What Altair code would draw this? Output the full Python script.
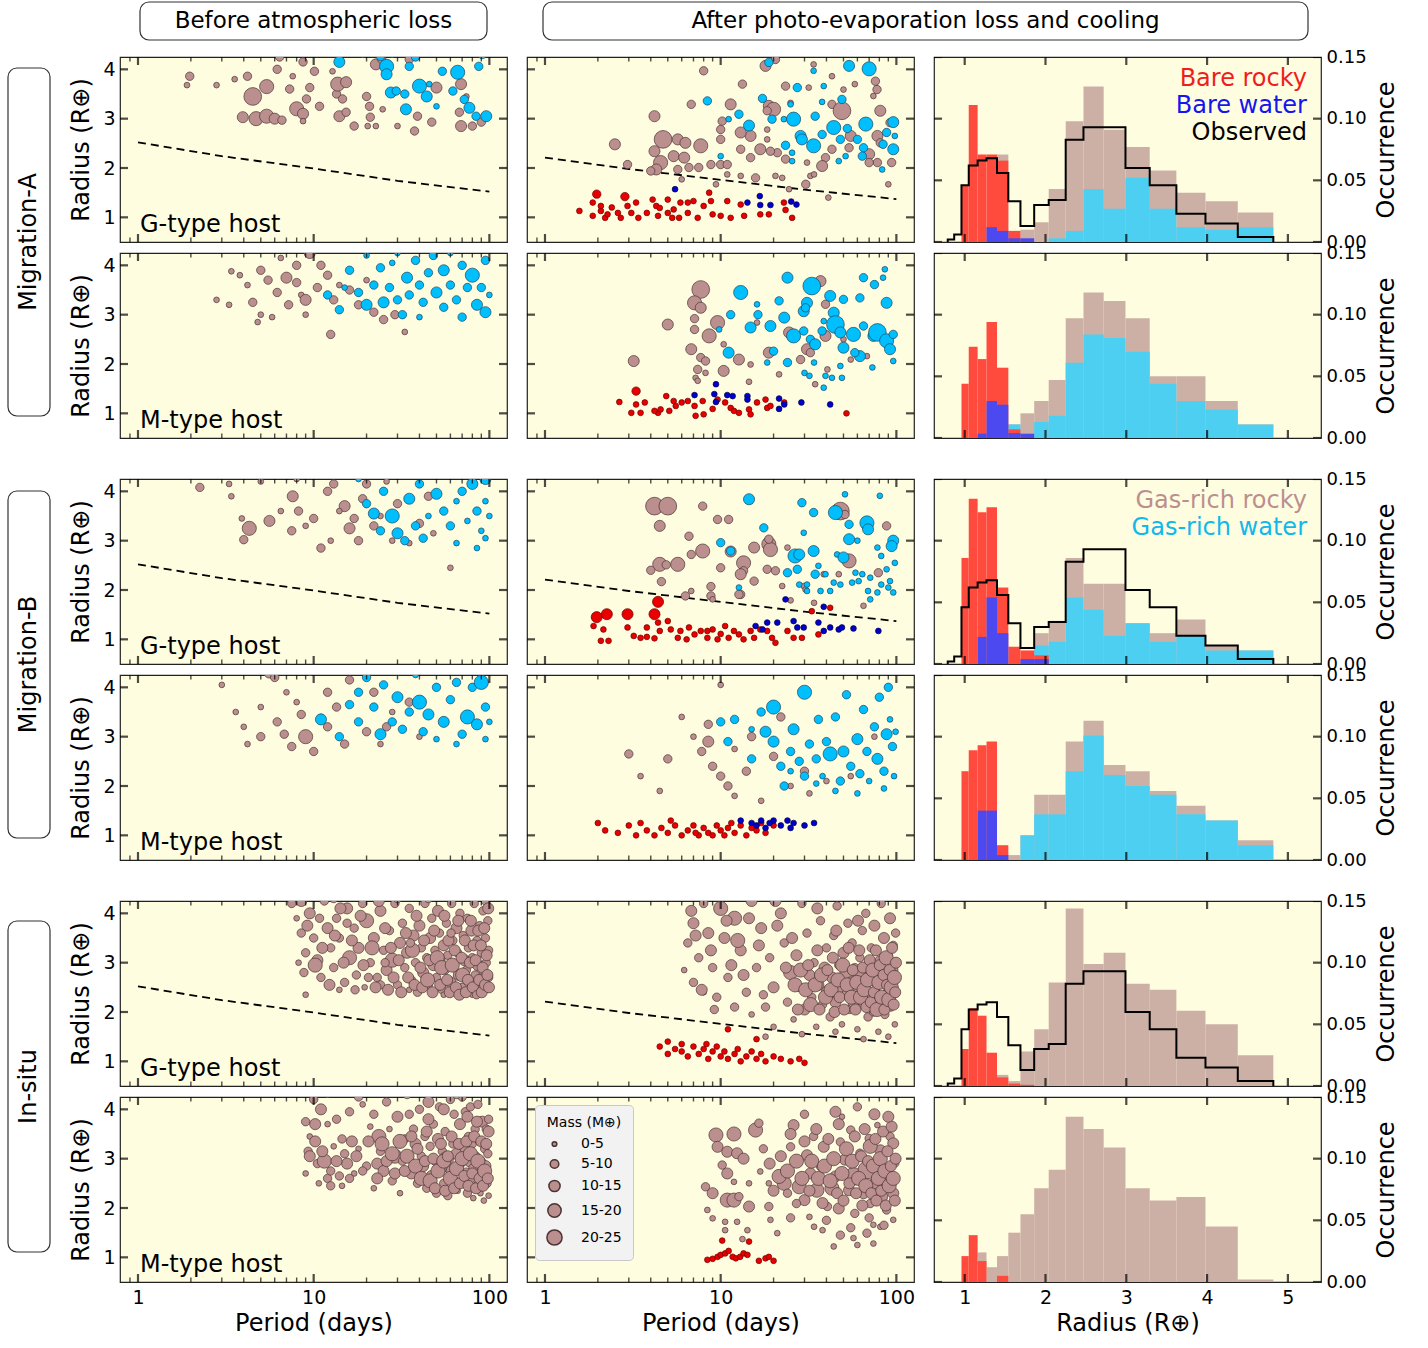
import altair as alt
import pandas as pd

# ---------------------------------------------------------------- data
# scatter points: (orbital period [days], radius [R_earth], mass class 1..5)
A_G_BEFORE_ROCKY = [(1.97,3.86,2),(1.9,3.68,1),(2.8,3.68,1),(3.55,3.8,1),(4.2,3.86,2),(4.5,3.45,5),(5.4,3.65,4),(4.7,3.0,4),(3.95,3.03,3),(5.4,3.05,4),(6.0,3.0,3),(6.6,2.97,2),(6.2,4.0,2),(6.4,4.25,2),(7.3,3.6,2),(7.6,3.86,1),(8.0,3.2,4),(8.7,3.1,3),(9.1,3.4,2),(9.5,3.63,2),(10.1,3.96,2),(10.8,3.25,2),(8.7,2.95,1),(8.7,4.15,2),(13.5,3.5,2),(13.7,3.7,4),(14.6,3.4,2),(15.3,3.74,3),(14.0,3.05,3),(15.3,3.13,2),(17,2.85,2),(12.8,3.96,1),(20,3.45,2),(20.8,3.25,2),(21,3.03,2),(20.3,2.85,1),(22.6,2.85,1),(24.7,3.19,1),(22.6,4.1,3),(24.4,4.2,2),(30,2.85,1),(37.5,2.75,2),(39,3.05,2),(47,2.93,2),(50,3.63,3),(35,4.2,2),(69,3.7,3),(67.5,3.13,2),(69,2.85,3),(80,2.85,2),(90,2.93,2),(74,3.45,1)]
A_G_BEFORE_WATER = [(14,4.15,3),(26,4.06,4),(26,3.9,3),(27.5,3.53,3),(29.5,3.56,2),(33,3.5,2),(33.5,3.19,3),(35,4.06,2),(40,3.66,4),(44,3.45,3),(45.5,3.7,1),(50,3.25,1),(54,3.96,2),(66,3.94,4),(62,3.56,2),(72,3.39,2),(77,3.22,3),(84,3.05,2),(96,3.05,3),(87,4.06,2),(91,4.3,2),(38,4.25,2),(24,4.26,2),(19,4.3,1),(28,4.3,1)]

A_G_AFTER_GAS_ROCKY = [(8.0,3.97,2),(13.3,3.70,2),(6.8,3.29,2),(11.4,3.29,3),(4.2,3.05,3),(2.5,2.48,3),(4.7,2.58,5),(4.2,2.34,3),(5.7,2.58,3),(6.3,2.51,3),(7.7,2.45,4),(4.55,2.11,4),(5.4,2.24,3),(6.2,2.21,3),(4.3,1.97,3),(2.95,2.07,2),(4.0,1.94,2),(5.7,1.97,2),(6.6,2.01,2),(7.5,2.01,2),(8.8,2.07,2),(10,2.07,2),(10,2.58,2),(10.2,2.95,2),(10,2.78,2),(13,2.38,2),(14.8,2.21,2),(14.8,2.65,3),(13,2.72,3),(10.9,2.07,2),(10.9,1.87,1),(13,1.84,1),(15.8,1.80,2),(9.4,1.67,1),(6.0,1.77,1),(16.8,2.38,3),(18.8,3.26,3),(20,3.19,4),(18.4,3.16,2),(18,4.07,3),(20.5,4.2,2),(23.4,3.66,2),(23.4,2.18,2),(21,2.31,2),(19.2,2.34,2),(18.4,2.78,1),(18.4,2.58,1),(20.5,1.84,1),(22.4,1.80,1),(24.5,1.57,1),(25,3.32,1),(31,2.11,1),(30.5,1.67,2),(31.7,3.63,1),(32.4,1.84,1),(33.8,4.1,1),(43,3.86,1),(43,3.29,2),(49,3.16,5),(50,3.59,1),(39.5,2.21,2),(43,2.38,2),(37.8,2.04,3),(55,2.65,3),(53.8,2.41,2),(41,1.40,1),(58,3.70,1),(76,3.76,2),(77.6,3.59,2),(74,3.46,1),(81,3.16,3),(92,2.92,2),(78,2.65,3),(81,2.51,2),(70,2.28,3),(78,2.11,2),(90,1.67,1),(94,2.11,2),(70,2.11,2),(34,1.87,1)]
A_G_AFTER_GAS_WATER = [(18.8,4.14,2),(8.4,3.36,2),(12.7,3.09,2),(11.1,2.99,1),(14.5,2.86,3),(17.3,3.41,2),(19.6,2.99,2),(22.9,2.99,1),(26,2.99,4),(27.3,3.63,2),(25,3.29,1),(28.5,2.65,3),(29,2.58,3),(23.4,2.46,2),(25.5,2.31,1),(25.5,2.14,1),(33.8,2.45,4),(34.5,3.05,2),(37.8,2.68,2),(38.6,3.66,1),(33.8,3.97,1),(37.8,3.34,1),(44,2.82,4),(49,3.39,2),(53.8,4.07,3),(52.6,2.8,2),(48,2.58,2),(51.4,2.24,1),(47,2.14,1),(70,4.01,4),(67,2.89,4),(65,2.41,2),(64,2.24,2),(96,2.93,3),(96,2.38,3),(88,2.72,2),(84,2.48,2),(83,1.97,1),(60,2.58,2),(98,2.65,1),(10,2.24,1)]
A_G_AFTER_BARE_ROCKY = [(1.97,1.47,2),(2.85,1.42,2),(1.57,1.13,1),(1.87,1.30,1),(1.87,1.03,1),(2.08,1.13,1),(2.2,0.99,1),(2.08,1.23,1),(2.6,1.09,1),(2.7,0.99,1),(2.95,1.23,1),(3.1,1.09,1),(3.3,1.30,1),(3.4,0.99,1),(3.8,1.09,1),(4.1,1.36,1),(4.3,1.23,1),(4.4,1.03,1),(5.0,1.36,1),(5.0,1.09,1),(5.4,1.16,1),(5.8,0.99,1),(5.9,1.30,1),(6.5,1.09,1),(7.0,1.33,1),(7.4,0.99,1),(8.0,1.23,1),(8.6,1.50,1),(8.8,1.33,1),(9.0,1.06,1),(10,1.03,1),(10.9,1.33,1),(11.4,0.99,1),(13,1.26,1),(13.6,1.03,1),(16.8,1.06,1),(18.8,1.06,1),(22.9,1.30,1),(23.4,1.15,1),(25.5,0.99,1),(2.27,1.06,1),(2.4,1.2,1),(4.5,1.19,1),(5.3,0.99,1),(6.5,1.30,1)]
A_G_AFTER_BARE_WATER = [(5.5,1.57,1),(14.2,1.30,1),(16.7,1.43,1),(16.8,1.25,1),(19.2,1.25,1),(25.2,1.32,1),(27,1.26,1)]

A_M_BEFORE_ROCKY = [(3.4,3.88,1),(3.8,3.8,1),(2.8,3.3,1),(3.3,3.2,1),(4.2,3.6,1),(4.5,3.25,2),(5.0,3.9,2),(5.5,3.7,2),(5.0,3.0,1),(5.8,2.95,1),(6.2,3.45,2),(7.0,3.75,3),(7.2,3.2,2),(8.0,3.65,2),(8.5,3.4,1),(9.0,3.3,3),(9.5,4.25,3),(10.5,3.55,2),(11,4.0,2),(12,3.8,2),(12.5,2.6,2),(13,3.3,2),(14,3.6,1),(6.5,4.15,1),(8,4.0,2),(4.8,2.85,1),(16,3.5,2),(18,3.2,2),(22,3.05,2),(25,2.9,2),(29,3.0,2),(33,2.65,1),(20,3.7,1),(9,3.0,1)]
A_M_BEFORE_WATER = [(12,3.4,2),(14,3.1,2),(15,3.55,1),(16,3.9,2),(18,3.45,2),(20,3.2,3),(20,4.2,1),(22,3.6,2),(24,3.95,2),(25,3.25,3),(27,3.55,2),(28,4.05,1),(30,3.3,2),(32,3.0,2),(34,3.75,3),(35,3.4,2),(38,4.1,2),(40,3.6,2),(42,3.25,2),(45,3.85,2),(48,4.2,2),(50,3.45,3),(55,3.15,2),(55,3.9,3),(60,3.6,2),(65,3.3,2),(70,4.0,2),(75,3.55,2),(80,3.8,4),(85,3.2,3),(90,3.55,2),(95,3.05,3),(95,4.1,2),(60,4.25,1),(30,4.25,1),(40,2.95,1),(70,2.95,2),(100,3.4,1)]

A_M_AFTER_GAS_ROCKY = [(7.7,3.51,5),(7.1,3.24,4),(7.7,3.14,3),(7.1,2.92,2),(7.1,2.70,2),(5.0,2.80,3),(9.6,2.84,4),(8.6,2.57,4),(6.8,2.30,3),(7.7,2.13,2),(8.2,2.06,2),(10.4,2.40,1),(10.4,1.86,3),(8.2,1.82,1),(7.4,1.89,2),(7.2,1.72,1),(7.4,1.66,1),(3.2,2.06,3),(12.7,2.09,3),(14.8,1.99,1),(14.5,1.64,1),(16.1,2.84,1),(18.8,2.23,3),(21.5,1.79,1),(24.5,2.64,3),(31,2.30,3),(32.4,2.23,2),(28.5,2.09,2),(34.5,1.59,1),(37,3.68,3),(39.5,3.21,2),(39.5,2.57,3),(40.5,1.89,1),(50,2.50,1),(55,2.09,1),(68,2.16,1)]
A_M_AFTER_GAS_WATER = [(13,3.45,4),(24,3.75,3),(33,3.58,5),(31,3.24,3),(11.4,3.0,2),(16.3,3.0,2),(14.8,2.74,3),(19.2,2.77,3),(23,2.94,3),(21.5,3.28,2),(16.1,3.21,1),(26,2.57,4),(29.7,2.67,2),(32.4,2.50,2),(34.5,2.40,3),(29.7,3.07,3),(30.4,3.14,2),(42,3.38,3),(50,3.31,2),(44,3.04,3),(45,2.80,5),(37.8,2.67,2),(38.6,2.87,1),(48,2.64,3),(50,2.33,3),(57,2.60,4),(62,3.34,2),(65,2.77,2),(74,2.57,3),(78,2.64,5),(88,2.47,4),(92,2.30,3),(88,3.24,3),(96,2.60,2),(96,2.06,1),(65,3.75,2),(75,3.61,2),(84,3.75,1),(86,3.92,1),(73,1.93,1),(62,2.16,3),(58,2.23,2),(48,1.96,1),(39.5,1.76,1),(43,1.72,1),(49,1.72,1),(30,1.82,1),(32,1.76,1),(20,2.26,2),(24,2.03,2),(18.4,2.03,1),(11.1,2.23,3),(34,2.03,1),(38.6,1.52,1),(9.8,2.70,1)]
A_M_AFTER_BARE_ROCKY = [(3.3,1.45,2),(2.65,1.23,1),(3.1,1.01,1),(3.3,1.18,1),(3.5,1.01,1),(3.7,1.22,1),(4.4,1.01,1),(4.55,1.08,1),(4.9,1.35,1),(5.1,1.05,1),(5.4,1.25,1),(5.55,1.15,1),(6.0,1.22,1),(6.5,1.25,1),(7.1,1.15,1),(7.2,0.95,1),(7.9,1.25,1),(8.0,0.98,1),(9.0,1.09,1),(10.6,1.22,1),(11.4,1.11,1),(11.9,1.05,1),(12.7,1.01,1),(14.5,1.08,1),(14.8,0.98,1),(16.1,1.22,1),(18,1.28,1),(18.4,1.11,1),(19.2,1.15,1),(23,1.22,1),(52,1.0,1),(4.2,1.05,1),(9.6,1.28,1)]
A_M_AFTER_BARE_WATER = [(9.4,1.59,1),(9.2,1.39,1),(9.4,1.23,1),(7.1,1.37,1),(10.9,1.37,1),(11.7,1.35,1),(14.2,1.35,1),(14.2,1.28,1),(21.5,1.30,1),(23,1.18,1),(21.5,1.09,1),(28.8,1.22,1),(42,1.18,1)]

B_G_BEFORE_ROCKY = [(2.25,4.08,2),(3.3,4.15,1),(3.4,3.9,1),(3.9,3.45,1),(4.3,3.25,4),(4.0,3.02,2),(5.6,3.4,3),(6.5,3.6,1),(7.6,3.9,3),(7.5,3.2,2),(8.2,3.6,2),(9.0,3.3,1),(10,3.45,2),(11,2.85,2),(12,4.0,2),(13,4.15,2),(15,3.7,3),(16,3.25,3),(17,3.45,2),(19,3.85,2),(20,4.15,2),(22,3.3,2),(24,3.5,1),(26,4.2,1),(12.5,3.0,1),(18,3.0,2),(28,3.0,1),(35,2.95,1),(40,3.35,2),(45,3.9,2),(48,3.15,1),(60,2.45,1),(8,4.25,1),(5,4.2,1),(14,3.6,1),(30,3.75,2)]
B_G_BEFORE_WATER = [(20,3.75,2),(22,3.55,3),(24,3.2,2),(25,4.0,2),(28,3.5,4),(30,3.15,3),(33,3.0,2),(35,3.85,3),(38,3.3,2),(40,4.15,2),(42,3.05,2),(50,3.95,3),(55,3.6,2),(60,3.3,2),(65,3.8,1),(70,4.0,2),(75,3.4,1),(80,4.15,3),(85,3.6,2),(90,3.2,1),(95,4.25,3),(95,3.8,1),(100,3.5,1),(18,4.25,1),(45,3.5,1),(65,2.95,1),(85,2.85,1),(95,3.05,1)]

B_G_AFTER_GAS_ROCKY = [(4.2,3.70,5),(5.0,3.70,5),(4.5,3.30,3),(7.9,3.70,2),(9.6,3.43,2),(11.1,3.43,2),(6.6,3.09,2),(7.9,2.79,4),(6.8,2.72,2),(5.7,2.52,4),(4.5,2.52,4),(4.9,2.51,2),(4.0,2.40,2),(4.6,2.17,2),(6.3,1.88,2),(6.8,1.98,1),(8.8,2.07,2),(8.8,1.88,2),(9.0,1.81,1),(10,2.45,2),(11.4,2.78,3),(13.5,2.55,4),(13.5,2.39,2),(13,2.32,3),(13,1.91,2),(15.5,2.86,3),(15.5,2.18,2),(18.4,2.42,2),(18.8,2.93,4),(19.2,2.82,4),(18.8,3.03,2),(20.5,2.39,2),(24,2.86,1),(22.4,2.08,1),(25,1.79,1),(29.7,2.08,1),(30.4,2.01,1),(34,1.74,1),(47,2.32,1),(48,3.60,5),(51,3.53,2),(53.8,2.59,4),(65,1.68,1),(79,2.35,2),(88,3.30,2),(38.6,2.32,1),(12.7,1.91,2)]
B_G_AFTER_GAS_WATER = [(14.5,3.84,3),(10,2.96,2),(11.4,2.79,2),(17.6,3.26,2),(29,3.77,2),(33.8,3.57,2),(26.5,2.69,4),(28,2.72,3),(33.8,2.79,3),(27.3,2.42,2),(24,2.35,2),(29.7,3.16,1),(36,2.49,1),(34.5,2.32,2),(39.5,2.32,1),(45,3.57,4),(51,3.94,1),(53.8,3.33,2),(53.8,3.03,3),(60,3.0,1),(46,2.72,1),(50,2.66,3),(68,3.36,4),(69,3.23,3),(80.5,3.91,1),(78,2.86,1),(82,2.69,1),(96,3.0,3),(94,2.89,3),(98,2.55,1),(88,2.42,1),(82,2.11,1),(90,2.05,1),(96,1.95,1),(92,2.18,1),(71,2.25,1),(64,2.32,1),(61,2.18,1),(58.5,2.35,1),(56,2.15,1),(48,2.11,1),(44,2.15,1),(42,1.98,1),(37,1.98,1),(31,2.11,1),(28,2.11,1),(12.7,2.05,1),(69,1.98,1),(78,1.95,1),(71,1.81,1),(31,1.98,1)]
B_G_AFTER_BARE_ROCKY = [(4.4,1.76,3),(1.97,1.45,3),(2.25,1.51,3),(2.95,1.51,3),(4.2,1.51,3),(1.89,1.27,1),(2.15,1.2,1),(2.08,0.97,1),(2.3,0.97,1),(2.95,1.24,1),(3.2,1.07,1),(3.5,1.03,1),(3.8,1.05,1),(4.2,1.02,1),(4.4,1.34,1),(4.5,1.17,1),(5.0,1.37,1),(5.2,1.2,1),(5.7,1.03,1),(5.9,1.17,1),(6.4,1.0,1),(6.6,1.24,1),(7.1,1.1,1),(7.7,1.17,1),(8.4,1.03,1),(9.0,1.2,1),(9.6,1.0,1),(10,1.11,1),(10.6,1.27,1),(11.1,1.03,1),(11.9,1.17,1),(12.7,1.1,1),(13.5,1.0,1),(14.8,1.17,1),(15.5,1.03,1),(16.8,1.2,1),(18.4,1.17,1),(19.6,1.03,1),(20.5,0.93,1),(24,1.17,1),(26,1.03,1),(29,1.03,1),(33,1.57,1),(36,1.1,1),(42,1.64,1),(8.4,1.17,1),(3.8,1.24,1)]
B_G_AFTER_BARE_WATER = [(23.4,1.81,1),(15.8,1.27,1),(18.4,1.34,1),(21,1.34,1),(26,1.37,1),(27.3,1.24,1),(29.7,1.24,1),(38.6,1.66,1),(36,1.34,1),(38.6,1.17,1),(42,1.24,1),(47,1.2,1),(49,1.24,1),(57,1.22,1),(79,1.17,1),(17.3,1.2,1)]

B_M_BEFORE_ROCKY = [(3.0,4.05,1),(3.6,3.5,1),(4.0,3.2,1),(4.2,2.85,1),(5.0,3.0,2),(5.6,4.3,3),(6.0,4.2,2),(6.2,3.3,2),(6.8,3.05,2),(7.5,2.8,2),(8,3.7,1),(8.5,3.45,2),(9.0,3.0,4),(10,2.7,2),(11,3.4,1),(12,3.2,2),(13.5,3.6,2),(15,2.85,2),(16,4.15,2),(18,3.3,1),(20,3.1,2),(22,3.9,2),(24,2.85,1),(28,3.5,1),(5.0,3.6,1),(7,3.9,1),(12,3.9,2),(26,3.2,2),(35,3.7,2),(40,3.0,1),(9.5,4.3,1)]
B_M_BEFORE_WATER = [(11,3.35,3),(14,3.0,2),(16,3.65,2),(18,3.9,2),(18,3.3,2),(20,4.2,2),(22,3.6,2),(24,3.05,3),(25,4.05,2),(28,3.3,2),(30,3.8,3),(32,3.15,2),(35,3.5,2),(38,4.25,1),(40,3.7,4),(42,3.1,2),(45,3.45,3),(50,4.0,2),(55,3.3,3),(60,3.75,2),(65,4.1,2),(70,3.05,2),(75,3.4,4),(80,4.0,2),(85,3.25,3),(90,4.1,4),(95,3.6,2),(95,2.95,1),(100,3.3,1),(50,2.95,1),(30,4.3,1),(65,2.85,1)]

B_M_AFTER_GAS_ROCKY = [(3.0,2.65,2),(3.5,2.2,1),(5.0,2.55,2),(6,3.4,1),(7,3.0,1),(7.8,2.7,2),(8.5,2.9,3),(9,2.4,2),(10,2.2,2),(10,4.05,1),(11,2.0,2),(12,1.8,1),(14,2.3,2),(15,3.0,2),(17,1.7,1),(20,2.6,2),(22,3.4,2),(30,2.3,2),(32,1.85,1),(40,2.1,1),(55,2.2,1),(25,2.0,1),(4.5,1.9,1),(8.5,3.25,2),(12,2.75,1),(75,3.0,1)]
B_M_AFTER_GAS_WATER = [(10,3.3,2),(11,2.9,2),(12,3.35,2),(15,3.15,1),(15,2.55,2),(17,3.5,2),(18,3.1,3),(20,2.9,3),(20,3.6,4),(22,2.4,2),(23,2.0,2),(25,2.7,2),(26,3.15,3),(28,2.5,2),(30,2.2,2),(30,3.9,4),(32,2.85,2),(35,2.55,2),(36,3.35,2),(38,2.2,1),(40,2.9,2),(42,2.65,4),(45,3.4,2),(48,2.1,2),(50,2.7,3),(52,3.85,2),(55,2.4,2),(60,2.95,3),(62,2.25,2),(65,3.55,2),(68,2.7,2),(70,2.1,1),(75,3.2,2),(78,2.55,3),(80,3.8,2),(85,2.3,2),(88,3.05,3),(90,4.0,2),(92,3.35,1),(95,2.8,2),(97,2.2,1),(99,3.1,1),(60,1.85,1),(45,1.9,1),(35,2.05,1),(85,1.95,1),(25,2.3,1)]
B_M_AFTER_BARE_ROCKY = [(2.0,1.25,1),(2.2,1.1,1),(2.6,1.05,1),(3.0,1.2,1),(3.3,1.0,1),(3.8,1.1,1),(4.2,1.0,1),(4.6,1.15,1),(5.0,1.05,1),(5.5,1.2,1),(6.0,1.0,1),(6.5,1.1,1),(7.0,1.2,1),(7.5,1.0,1),(8.0,1.15,1),(8.5,1.05,1),(9.0,1.0,1),(9.5,1.2,1),(10.0,1.1,1),(10.5,1.0,1),(11,1.15,1),(11.5,1.25,1),(12,1.05,1),(13,1.2,1),(14,1.0,1),(15,1.15,1),(16,1.1,1),(17,1.25,1),(18,1.05,1),(20,1.2,1),(5.2,1.3,1),(3.5,1.25,1),(7.2,1.05,1)]
B_M_AFTER_BARE_WATER = [(13,1.3,1),(15,1.25,1),(16,1.2,1),(17,1.3,1),(19,1.25,1),(20,1.3,1),(22,1.2,1),(24,1.3,1),(26,1.25,1),(30,1.2,1),(34,1.25,1),(18,1.15,1),(25,1.15,1)]

I_G_BEFORE_ROCKY = [(7.5,4.2,2),(8,3.9,1),(8.5,3.6,2),(9,3.2,2),(8.2,3.0,1),(8.8,2.8,2),(9.5,4.0,3),(10,3.5,2),(10.5,3.05,3),(11,2.7,2),(11.5,4.25,2),(12,3.7,3),(12.5,3.3,2),(13,2.9,2),(13.5,3.9,2),(14,3.5,2),(15,2.6,2),(15.5,4.1,3),(16,3.1,4),(17,3.7,2),(17.5,2.75,2),(18,3.3,3),(19,4.2,2),(19.5,2.5,1),(20,3.85,4),(21,3.0,2),(22,3.5,3),(23,2.7,2),(24,4.05,3),(25,3.25,2),(26,2.85,3),(27,3.65,2),(28,3.05,4),(29,4.2,2),(30,2.55,2),(31,3.4,3),(32,3.8,2),(33,2.9,2),(34,3.2,3),(35,4.1,2),(36,2.65,2),(37,3.55,3),(38,3.0,2),(39,2.4,2),(40,3.75,3),(41,3.3,2),(42,2.8,3),(43,4.2,2),(44,3.1,2),(45,2.55,2),(46,3.5,3),(47,3.9,2),(48,2.95,3),(49,3.25,2),(50,2.7,2),(51,4.05,3),(52,3.6,2),(53,3.05,2),(54,2.45,2),(55,3.35,3),(56,2.85,2),(57,3.8,2),(58,3.15,2),(60,2.6,3),(61,4.2,2),(62,3.45,2),(63,2.95,2),(65,3.7,3),(66,3.2,2),(67,2.75,3),(68,4.0,2),(70,2.5,2),(71,3.55,2),(72,3.05,3),(74,2.85,2),(75,3.9,2),(76,3.3,2),(78,2.6,2),(79,3.65,3),(80,3.1,2),(82,4.2,2),(83,2.75,2),(85,3.45,2),(86,2.95,3),(88,3.75,2),(89,2.55,2),(90,3.2,2),(92,4.05,2),(93,2.8,2),(95,3.5,2),(96,3.0,2),(97,2.45,1),(98,3.85,2),(99,3.25,2),(99,2.7,2),(24,2.55,2),(14,2.45,1),(35,2.45,1),(55,2.35,1),(80,2.35,1),(45,4.3,2),(30,4.3,2),(13,4.3,2),(95,4.25,2),(9,2.35,1),
                    (8.5,4.25,3),(9.2,3.75,3),(10.2,2.95,4),(10.8,3.9,2),(11.2,3.3,3),(12.3,2.55,3),(13.2,3.55,3),(14.2,4.1,3),(14.8,3.0,3),(16.5,3.45,3),(17.2,2.45,2),(18.5,3.95,3),(19.2,2.95,3),(21.5,3.3,4),(22.5,2.5,3),(23.5,4.25,3),(25.5,3.7,3),(26.5,2.45,3),(27.5,3.3,3),(28.5,2.7,3),(30.5,3.05,3),(31.5,2.4,3),(33.5,3.6,3),(34.5,2.7,3),(36.5,3.25,4),(37.5,2.55,3),(38.5,3.95,3),(40.5,2.9,3),(41.5,2.5,3),(42.5,3.45,3),(44.5,2.65,4),(45.5,3.05,3),(47.5,2.4,3),(48.5,3.65,3),(50.5,3.1,4),(52.5,2.55,3),(53.5,2.9,4),(55.5,3.95,3),(57.5,2.65,3),(58.5,3.45,3),(59.5,2.4,3),(61.5,2.95,4),(63.5,3.25,3),(64.5,2.5,3),(66.5,3.85,3),(67.5,2.35,3),(69.5,3.1,3),(70.5,2.75,4),(72.5,3.45,3),(73.5,2.4,3),(75.5,2.65,3),(77.5,3.0,3),(78.5,3.85,3),(80.5,2.5,3),(81.5,3.35,3),(83.5,3.05,3),(84.5,2.35,2),(86.5,3.65,3),(87.5,2.65,3),(89.5,3.35,3),(90.5,2.4,3),(91.5,2.9,3),(93.5,3.7,3),(94.5,2.55,3),(96.5,3.15,3),(97.5,2.75,3),(98.5,4.1,3),(99.5,2.5,3),(60.5,3.6,2),(35.5,3.4,2),(25.5,3.0,2),(20.5,2.7,2),(15.5,3.8,2)]

I_G_AFTER_GAS_ROCKY = [(7,3.8,3),(6.5,3.4,2),(7.5,3.1,2),(8,4.2,2),(8.5,3.6,3),(9,2.9,2),(6.2,2.85,1),(7,2.6,2),(8,2.4,1),(9.5,2.3,2),(10,4.1,4),(10.5,3.5,3),(11,2.7,2),(12,3.9,4),(12,2.1,2),(13,3.25,3),(14,2.4,2),(15,4.25,3),(16,2.9,2),(17,3.7,3),(18,2.1,2),(19,3.1,2),(20,2.5,3),(22,4.0,3),(23,3.4,2),(24,2.2,2),(25,2.8,4),(26,1.85,1),(27,3.15,3),(28,2.5,2),(29,4.2,2),(30,2.05,3),(31,3.6,2),(32,2.75,3),(33,2.3,2),(34,3.0,2),(35,1.7,1),(36,2.55,3),(37,3.85,2),(38,2.15,2),(39,2.9,3),(40,3.3,2),(41,2.4,4),(42,1.9,2),(43,2.7,3),(44,3.55,2),(45,2.2,3),(46,4.15,2),(47,2.95,2),(48,2.5,3),(49,1.75,1),(50,3.2,3),(51,2.35,2),(52,2.75,4),(53,3.8,2),(54,2.05,2),(55,2.6,3),(56,3.4,2),(57,2.2,3),(58,2.9,2),(60,1.65,1),(61,2.45,3),(62,3.1,2),(63,2.75,3),(64,3.65,2),(65,2.15,2),(66,2.55,3),(67,4.0,2),(68,2.9,2),(69,1.9,2),(70,2.35,4),(72,3.3,2),(73,2.65,3),(74,2.0,2),(75,3.75,3),(76,2.45,2),(78,2.85,3),(79,1.6,1),(80,3.05,2),(81,2.25,3),(82,4.2,2),(83,2.6,2),(85,3.5,3),(86,1.95,2),(87,2.75,2),(88,2.35,3),(90,3.15,2),(91,2.55,2),(92,3.9,3),(93,2.1,2),(95,2.85,3),(96,3.35,2),(97,2.4,2),(98,1.75,1),(99,2.65,2),(99,3.6,2),(29,1.55,1),(18,1.5,1),(45,1.6,1),(65,1.45,1),(90,1.5,1),(15,1.95,1),(20,1.7,1),
                       (6.8,4.05,3),(7.2,3.55,3),(7.8,2.45,3),(8.8,3.25,3),(9.2,2.05,2),(10.8,3.85,3),(11.5,2.95,3),(12.5,3.45,4),(13.5,2.75,3),(14.5,3.9,3),(16.5,3.35,3),(17.5,2.35,2),(21,3.75,3),(23.5,2.9,3),(26.5,2.55,4),(27.5,2.05,3),(28.5,2.85,4),(30.5,2.45,4),(31.5,2.95,3),(32.5,2.15,4),(34.5,2.55,4),(35.5,3.25,3),(36.5,2.05,3),(37.5,2.75,4),(39.5,2.3,4),(40.5,2.85,3),(42.5,2.45,4),(43.5,3.1,3),(44.5,2.0,3),(46.5,2.65,4),(47.5,2.3,3),(49.5,2.95,4),(50.5,2.05,3),(52.5,2.55,4),(53.5,3.3,3),(55.5,2.3,4),(56.5,2.85,3),(58.5,2.05,3),(59.5,2.6,4),(61.5,3.25,3),(62.5,2.3,4),(64.5,2.9,3),(65.5,2.45,4),(67.5,2.1,3),(68.5,2.65,4),(70.5,3.05,3),(71.5,2.2,3),(73.5,2.85,4),(74.5,2.4,3),(76.5,3.25,3),(77.5,2.05,4),(79.5,2.6,4),(80.5,2.95,3),(82.5,2.3,4),(84.5,2.75,3),(85.5,2.05,3),(87.5,3.1,4),(88.5,2.55,3),(90.5,2.25,4),(91.5,2.85,3),(93.5,2.5,4),(94.5,3.3,3),(96.5,2.15,3),(97.5,2.7,4),(98.5,2.4,3),(99.5,3.0,3),(45.5,3.65,3),(60.5,3.85,3),(35.5,4.1,3),(25.5,3.5,3),(20.5,4.25,3)]
I_G_AFTER_BARE_ROCKY = [(4.5,1.3,1),(5.0,1.15,1),(5.5,1.25,1),(6.0,1.2,1),(6.5,1.1,1),(7.0,1.3,1),(7.5,1.15,1),(8.0,1.25,1),(8.5,1.05,1),(9.0,1.2,1),(9.5,1.3,1),(10,1.1,1),(10.5,1.2,1),(11,1.05,1),(12,1.15,1),(12.5,1.25,1),(13,1.0,1),(14,1.1,1),(15,1.2,1),(16,1.05,1),(17,1.15,1),(18,1.0,1),(20,1.1,1),(22,1.05,1),(25,1.0,1),(28,1.05,1),(30,0.97,1),(6,1.35,1),(8.3,1.35,1),(11,1.65,1),(16,1.45,1),(5,1.4,1)]

I_M_BEFORE_ROCKY = [(9,3.75,2),(9.3,3.15,2),(9,2.7,1),(9.5,3.45,1),(10,4.2,2),(10.2,3.35,3),(10.5,2.9,2),(10.7,2.5,1),(11,4.0,3),(11.5,2.95,4),(12,2.6,2),(12,3.7,1),(12.5,2.75,2),(13,3.25,1),(13.5,3.8,2),(14,2.65,2),(14.5,2.45,1),(15,3.1,2),(15.5,2.9,3),(16,3.95,2),(16.5,3.35,3),(17,2.7,1),(18,3.2,1),(19,4.1,1),(20,2.85,2),(21,3.65,1),(22,2.4,1),(23,2.9,3),(23.5,3.45,4),(24,3.15,2),(25,2.75,3),(26,4.15,2),(27,3.6,1),(28,2.55,2),(29,3.05,4),(30,3.85,3),(31,2.3,1),(32,2.95,2),(33,3.4,2),(34,4.3,2),(35,3.0,2),(36,2.7,3),(37,3.6,2),(38,3.3,3),(39,2.5,2),(40,4.0,2),(41,3.05,2),(42,2.85,3),(43,3.45,2),(44,2.4,2),(45,4.15,3),(46,3.25,2),(47,2.65,3),(48,3.7,2),(49,2.95,2),(50,2.3,2),(51,3.4,3),(52,4.05,2),(53,2.8,3),(54,3.15,2),(55,2.5,2),(56,3.55,2),(57,3.0,4),(58,2.25,2),(60,4.2,2),(61,2.75,3),(62,3.3,2),(63,3.9,2),(64,2.55,2),(65,3.1,3),(66,2.35,1),(68,3.7,3),(69,2.9,2),(70,4.25,2),(71,2.5,2),(72,3.2,2),(73,3.95,2),(74,2.7,3),(75,2.3,2),(76,3.45,2),(77,2.95,3),(78,4.05,2),(79,2.6,2),(80,3.3,2),(81,2.2,1),(82,2.8,3),(83,3.6,2),(84,3.05,2),(85,2.45,2),(86,4.1,2),(87,2.7,2),(88,3.35,2),(89,2.3,1),(90,2.95,2),(91,3.75,3),(92,2.6,2),(93,2.15,1),(94,3.2,2),(95,2.85,3),(96,3.6,2),(97,2.5,2),(98,3.1,2),(99,2.25,1),(99,3.8,2),(18,4.25,2),(12,4.3,1),(50,4.3,1),(65,4.3,2),
                    (9.5,3.05,3),(10.2,3.7,3),(11.2,3.15,3),(12.5,2.45,2),(13.5,2.95,3),(14.5,3.4,2),(16,2.6,2),(17.5,3.05,3),(19,2.75,2),(20.5,3.35,3),(22,3.9,2),(23,2.6,3),(24.5,3.3,4),(26,2.95,3),(28,3.1,4),(29,2.7,3),(31,3.35,4),(33,2.75,3),(34,3.05,4),(36,3.45,3),(38,2.85,4),(39,3.2,3),(41,2.6,4),(43,2.95,3),(44,3.55,3),(46,2.55,4),(48,3.0,3),(49,2.4,3),(51,2.75,4),(53,3.3,3),(55,2.95,4),(56,2.35,3),(58,3.05,3),(60,2.6,4),(61,3.45,3),(63,2.4,3),(65,2.8,4),(67,3.3,3),(68,2.5,3),(70,3.0,4),(72,2.65,3),(74,3.35,3),(76,2.45,3),(78,3.1,4),(80,2.7,3),(82,3.45,3),(84,2.4,3),(86,2.95,4),(88,2.6,3),(90,3.35,3),(92,2.45,3),(94,2.75,4),(96,3.3,3),(98,2.6,3),(99,3.55,3),(45,3.8,3),(75,3.85,3),(35,3.9,2),(55,4.0,3),(85,3.75,3)]

I_M_AFTER_GAS_ROCKY = [(9.4,3.48,4),(11.9,3.5,4),(15.8,3.58,4),(16.5,3.72,2),(9.6,3.24,3),(10.9,3.14,3),(12.4,3.11,3),(13.5,3.0,3),(10.2,2.87,2),(10.9,2.70,3),(8.2,2.43,2),(9.0,2.30,3),(10.9,2.16,4),(11.9,2.16,4),(12.7,2.23,2),(14.5,2.03,3),(14.5,2.5,1),(11.9,2.53,1),(8.4,1.96,1),(9.0,1.79,1),(10.6,1.72,1),(10.6,1.55,1),(12.4,1.72,1),(14.2,1.55,1),(13.3,1.37,1),(16.8,2.74,1),(18.8,2.5,1),(18.8,2.03,2),(19.2,1.76,1),(21,1.49,1),(23,2.5,4),(24,2.30,2),(26,3.68,3),(25,3.24,2),(28,2.43,4),(30,2.16,3),(31,3.07,3),(32.4,2.70,3),(33.8,3.45,2),(35.3,2.36,4),(37,2.84,2),(38.6,3.24,3),(40.5,2.03,2),(43,2.40,4),(45,2.64,3),(47,1.99,3),(48,3.34,2),(49,3.85,1),(51,2.98,3),(53.8,2.36,3),(55,3.58,2),(57,2.64,5),(58,1.89,2),(62,3.11,2),(65,2.30,3),(68,2.77,5),(70,3.41,2),(71,2.09,2),(74,1.66,1),(75,2.50,3),(78,3.68,1),(81,3.17,3),(83,2.23,3),(84,2.70,3),(88,1.96,2),(90,2.57,5),(92,3.45,2),(96,3.31,3),(98,2.91,2),(96,2.30,3),(96,1.76,1),(57,1.39,1),(44,1.22,1),(60,1.25,1),(74,1.28,1),(38,1.55,1),(68,1.49,2),(48,1.45,2),(34,1.62,1),(21.5,2.64,4),(27,2.09,2),(32,1.82,1),(81,1.62,1),
                       (17.5,3.2,2),(19,2.9,3),(20,2.35,3),(22,3.05,3),(24,2.75,4),(25,3.5,3),(27,2.95,4),(29,2.6,4),(30,3.35,3),(32,2.35,3),(33,2.95,4),(35,3.6,3),(36,2.6,4),(38,2.1,3),(39,2.85,4),(41,3.4,3),(42,2.55,4),(44,3.0,4),(46,2.3,3),(47,3.7,3),(49,2.7,4),(50,2.15,3),(52,3.2,4),(54,2.5,3),(56,2.95,4),(58,3.45,3),(59,2.3,3),(61,2.6,4),(63,3.05,3),(64,2.05,3),(66,3.6,3),(67,2.45,4),(69,2.95,3),(71,3.25,4),(72,2.3,3),(74,2.85,4),(76,3.4,3),(77,2.15,3),(79,2.6,4),(81,3.0,4),(82,2.35,3),(84,3.55,3),(86,2.75,4),(87,2.05,3),(89,3.15,3),(91,2.45,4),(93,2.85,3),(94,3.65,3),(96,2.6,4),(98,2.15,3),(99,3.0,3),(45,3.95,3),(60,4.05,2),(75,3.9,3),(30,3.9,2),(90,3.85,3),(40,1.75,2),(55,1.6,2),(70,1.8,2),(85,1.65,2),(25,1.8,2)]
I_M_AFTER_BARE_ROCKY = [(8.4,0.95,1),(9.0,0.97,1),(9.6,1.01,1),(10,1.05,1),(10.6,1.08,1),(11.1,1.13,1),(11.7,1.01,1),(12.2,0.98,1),(12.9,1.01,1),(13.5,1.08,1),(14.2,1.05,1),(10.2,1.34,1),(14.5,1.32,1),(16.5,0.93,1),(18,0.98,1),(18.8,1.01,1),(20,0.93,1)]

# dashed threshold line (before / after panels)
DASH_P = [1, 3, 10, 30, 100]
DASH_R_BEFORE = [2.52, 2.24, 1.99, 1.74, 1.52]
DASH_R_AFTER = [2.21, 1.98, 1.76, 1.56, 1.37]

# radius-histogram bin edges and occurrences
BIN_EDGES = [0.79, 0.87, 0.96, 1.05, 1.16, 1.27, 1.40, 1.54, 1.69, 1.86, 2.04, 2.25, 2.47, 2.72, 2.99, 3.29, 3.62, 3.98, 4.38, 4.82]
OBSERVED = [0.002, 0.006, 0.046, 0.062, 0.066, 0.068, 0.056, 0.033, 0.013, 0.030, 0.034, 0.083, 0.093, 0.093, 0.060, 0.046, 0.023, 0.015, 0.004]

H1_GAS_ROCKY = [0, 0, 0, 0, 0, 0, 0.071, 0.009, 0.010, 0.016, 0.043, 0.098, 0.126, 0.091, 0.077, 0.058, 0.040, 0.033, 0.024]
H1_GAS_WATER = [0, 0, 0, 0, 0, 0, 0, 0, 0, 0, 0.003, 0.009, 0.043, 0.027, 0.052, 0.027, 0.012, 0.010, 0.012]
H1_BARE_ROCKY = [0, 0, 0.046, 0.111, 0.071, 0.071, 0.066, 0.009, 0, 0, 0, 0, 0, 0, 0, 0, 0, 0, 0]
H1_BARE_WATER = [0, 0, 0, 0, 0, 0.012, 0.009, 0.003, 0.003, 0, 0, 0, 0, 0, 0, 0, 0, 0, 0]

H2_GAS_ROCKY = [0, 0, 0, 0, 0, 0, 0, 0.011, 0.020, 0.030, 0.047, 0.097, 0.118, 0.111, 0.097, 0.050, 0.050, 0.030, 0.011]
H2_GAS_WATER = [0, 0, 0, 0, 0, 0, 0, 0.011, 0, 0.013, 0.018, 0.061, 0.084, 0.081, 0.070, 0.044, 0.030, 0.023, 0.011]
H2_BARE_ROCKY = [0, 0, 0.044, 0.074, 0.064, 0.094, 0.057, 0.007, 0, 0, 0, 0, 0, 0, 0, 0, 0, 0, 0]
H2_BARE_WATER = [0, 0, 0, 0, 0.0035, 0.030, 0.027, 0.004, 0.0035, 0, 0, 0, 0, 0, 0, 0, 0, 0, 0]

H3_GAS_ROCKY = [0, 0, 0, 0, 0, 0, 0, 0, 0, 0.025, 0.035, 0.086, 0.065, 0.065, 0.033, 0.025, 0.036, 0.015, 0.011]
H3_GAS_WATER = [0, 0, 0, 0, 0, 0, 0, 0, 0, 0.015, 0.018, 0.054, 0.044, 0.023, 0.033, 0.018, 0.023, 0.011, 0.011]
H3_BARE_ROCKY = [0, 0, 0.086, 0.134, 0.123, 0.127, 0.062, 0.014, 0.011, 0.007, 0, 0, 0, 0, 0, 0, 0, 0, 0]
H3_BARE_WATER = [0, 0, 0, 0, 0.022, 0.054, 0.025, 0, 0.004, 0.004, 0, 0, 0, 0, 0, 0, 0, 0, 0]

H4_GAS_ROCKY = [0, 0, 0, 0, 0, 0, 0, 0.004, 0.020, 0.053, 0.053, 0.096, 0.113, 0.077, 0.072, 0.056, 0.044, 0.032, 0.016]
H4_GAS_WATER = [0, 0, 0, 0, 0, 0, 0, 0, 0.020, 0.037, 0.037, 0.072, 0.101, 0.069, 0.060, 0.053, 0.037, 0.032, 0.012]
H4_BARE_ROCKY = [0, 0, 0.072, 0.089, 0.093, 0.096, 0.012, 0, 0, 0, 0, 0, 0, 0, 0, 0, 0, 0, 0]
H4_BARE_WATER = [0, 0, 0, 0, 0.040, 0.040, 0.004, 0, 0, 0, 0, 0, 0, 0, 0, 0, 0, 0, 0]

H5_GAS_ROCKY = [0, 0, 0, 0, 0, 0, 0.009, 0.004, 0.028, 0.046, 0.084, 0.144, 0.099, 0.108, 0.083, 0.078, 0.061, 0.050, 0.025]
H5_BARE_ROCKY = [0, 0, 0.030, 0.063, 0.057, 0.027, 0.007, 0.002, 0.001, 0, 0, 0, 0, 0, 0, 0, 0, 0, 0]

H6_GAS_ROCKY = [0, 0, 0, 0, 0.024, 0.012, 0.021, 0.040, 0.055, 0.076, 0.091, 0.134, 0.124, 0.109, 0.076, 0.066, 0.069, 0.045, 0.002]
H6_BARE_ROCKY = [0, 0, 0.021, 0.038, 0.017, 0, 0.005, 0, 0, 0, 0, 0, 0, 0, 0, 0, 0, 0, 0]

MASS_BINS = ["0-5", "5-10", "10-15", "15-20", "20-25"]
MASS_MID = [2.5, 7.5, 12.5, 17.5, 22.5]

COLUMN_TITLES = ["Before atmospheric loss", "After photo-evaporation loss and cooling"]
GROUP_TITLES = ["Migration-A", "Migration-B", "In-situ"]

# ---------------------------------------------------------------- style
W, H = 387, 185
FONT = "DejaVu Sans"
BG = "#fffde0"
SIZE_PX = {1: 33, 2: 71, 3: 123, 4: 200, 5: 314}
PT_FILL = {"gr": "#bc8f8f", "gw": "#00bfff", "br": "#e80000", "bw": "#0000cd"}
PT_EDGE = {"gr": "#4a3434", "gw": "#17465e", "br": "#6e0000", "bw": "#00004a"}
HIST_FILL = {"gr": "#cdb0a5", "gw": "#4dcff2", "br": "#ff4b3e", "bw": "#4b49ef"}

P_DOMAIN = [0.79, 126]
R_DOMAIN = [0.5, 4.25]
HX_DOMAIN = [0.62, 5.41]
HY_DOMAIN = [0, 0.15]

LOG_MAJOR = [1, 10, 100]
LOG_MINOR = [0.9, 2, 3, 4, 5, 6, 7, 8, 9, 20, 30, 40, 50, 60, 70, 80, 90]
R_TICKS = [1, 2, 3, 4]
HX_TICKS = [1, 2, 3, 4, 5]
HY_TICKS = [0, 0.05, 0.10, 0.15]


def xticks(vals, X, length, thick):
    df = pd.DataFrame({"t": vals})
    base = alt.Chart(df).mark_tick(orient="vertical", size=length, thickness=thick, color="black", clip=True)
    return [base.encode(x=X("t"), y=alt.value(H)), base.encode(x=X("t"), y=alt.value(0))]


def yticks(vals, Y, length, thick):
    df = pd.DataFrame({"t": vals})
    base = alt.Chart(df).mark_tick(orient="horizontal", size=length, thickness=thick, color="black", clip=True)
    return [base.encode(y=Y("t"), x=alt.value(0)), base.encode(y=Y("t"), x=alt.value(W))]


def box(txt, x1, x2, y1, y2, angle=0, size=23):
    d = pd.DataFrame({"t": [txt]})
    rect = (alt.Chart(d).mark_rect(cornerRadius=9, fill="white", stroke="#333333", strokeWidth=1.2)
            .encode(x=alt.value(x1), x2=alt.value(x2), y=alt.value(y1), y2=alt.value(y2)))
    text = (alt.Chart(d).mark_text(angle=angle, fontSize=size, align="center", baseline="middle", color="black")
            .encode(x=alt.value((x1 + x2) / 2), y=alt.value((y1 + y2) / 2), text="t:N"))
    return [rect, text]


def scatter_panel(groups, dash=None, label=None, yaxis=False, xaxis=False, legend=False, extra=()):
    xs = alt.Scale(type="log", domain=P_DOMAIN, nice=False)
    ys = alt.Scale(domain=R_DOMAIN, nice=False, zero=False)
    xax = None
    if xaxis:
        xax = alt.Axis(values=LOG_MAJOR, format="~g", title="Period (days)", labelFontSize=19,
                       titleFontSize=24, labelPadding=6, titlePadding=4, ticks=False, domain=False,
                       grid=False, labelFlush=False, labelOverlap=False)
    yax = None
    if yaxis:
        yax = alt.Axis(values=R_TICKS, title="Radius (R⊕)", labelFontSize=19, titleFontSize=24,
                       labelPadding=5, titlePadding=9, ticks=False, domain=False, grid=False,
                       labelFlush=False)

    def X(f):
        return alt.X(f, type="quantitative", scale=xs, axis=xax)

    def Y(f):
        return alt.Y(f, type="quantitative", scale=ys, axis=yax)

    layers = []
    if dash is not None:
        ddf = pd.DataFrame({"P": DASH_P, "R": dash})
        layers.append(alt.Chart(ddf).mark_line(color="black", strokeDash=[8, 5], strokeWidth=1.8, clip=True)
                      .encode(x=X("P"), y=Y("R")))
    for key, pts in groups:
        df = pd.DataFrame(pts, columns=["P", "R", "c"])
        df["sz"] = df["c"].map(SIZE_PX)
        layers.append(alt.Chart(df).mark_circle(opacity=1, stroke=PT_EDGE[key], strokeWidth=0.7, clip=True)
                      .encode(x=X("P"), y=Y("R"), size=alt.Size("sz:Q", scale=None),
                              color=alt.value(PT_FILL[key])))
    if legend:
        ldf = pd.DataFrame({"P": [0.1] * 5, "R": [2.0] * 5, "m": MASS_MID})
        label_expr = ("datum.value < 5 ? '0-5' : datum.value < 10 ? '5-10' : "
                      "datum.value < 15 ? '10-15' : datum.value < 20 ? '15-20' : '20-25'")
        layers.append(alt.Chart(ldf).mark_point(shape="circle", filled=False, color="black", strokeWidth=1,
                                                 clip=True)
                      .encode(x=X("P"), y=Y("R"),
                              size=alt.Size("m:Q", scale=alt.Scale(domain=[2.5, 22.5], range=[22, 230]),
                                            legend=alt.Legend(title="Mass (M⊕)", orient="top-left", offset=8,
                                                              values=MASS_MID, labelExpr=label_expr,
                                                              fillColor="#f2f2f2", strokeColor="#c8c8c8",
                                                              cornerRadius=4, padding=11, titleFontSize=14,
                                                              labelFontSize=14, titleFontWeight="normal",
                                                              rowPadding=5, labelOffset=18, titlePadding=7,
                                                              titleAnchor="middle"))))
    layers += xticks(LOG_MAJOR, X, 16, 2.2)
    layers += xticks(LOG_MINOR, X, 9, 1.4)
    layers += yticks(R_TICKS, Y, 16, 2.2)
    if label is not None:
        layers.append(alt.Chart(pd.DataFrame({"t": [label]})).mark_text(align="left", baseline="alphabetic",
                                                                        fontSize=24, color="black")
                      .encode(x=alt.value(20), y=alt.value(H - 10), text="t:N"))
    layers += list(extra)
    return alt.layer(*layers).properties(width=W, height=H)


def hist_panel(series, observed=None, texts=(), xaxis=False):
    xs = alt.Scale(domain=HX_DOMAIN, nice=False, zero=False)
    ys = alt.Scale(domain=HY_DOMAIN, nice=False)
    xax = None
    if xaxis:
        xax = alt.Axis(values=HX_TICKS, format="d", title="Radius (R⊕)", labelFontSize=19, titleFontSize=24,
                       labelPadding=6, titlePadding=4, ticks=False, domain=False, grid=False,
                       labelFlush=False)
    yax = alt.Axis(orient="right", values=HY_TICKS, format=".2f", title="Occurrence", labelFontSize=18,
                   titleFontSize=24, labelPadding=5, titlePadding=8, titleAngle=270, titleBaseline="top",
                   ticks=False, domain=False, grid=False, labelFlush=False, labelOverlap=False)

    def X(f):
        return alt.X(f, type="quantitative", scale=xs, axis=xax)

    def Y(f):
        return alt.Y(f, type="quantitative", scale=ys, axis=yax)

    layers = []
    for key, vals in series:
        df = pd.DataFrame({"lo": BIN_EDGES[:-1], "hi": BIN_EDGES[1:], "v": vals})
        df = df[df["v"] > 0]
        layers.append(alt.Chart(df).mark_rect(color=HIST_FILL[key], opacity=1)
                      .encode(x=X("lo"), x2="hi", y=Y("v"), y2=alt.datum(0)))
    if observed is not None:
        xs_ = [BIN_EDGES[0]] + BIN_EDGES[:-1] + [BIN_EDGES[-1]]
        ys_ = [0] + observed + [0]
        odf = pd.DataFrame({"x": xs_, "y": ys_, "i": list(range(len(xs_)))})
        layers.append(alt.Chart(odf).mark_line(interpolate="step-after", color="black", strokeWidth=2)
                      .encode(x=X("x"), y=Y("y"), order="i:Q"))
    layers += xticks(HX_TICKS, X, 16, 2.2)
    layers += yticks(HY_TICKS, Y, 16, 2.2)
    for i, (txt, col) in enumerate(texts):
        layers.append(alt.Chart(pd.DataFrame({"t": [txt]})).mark_text(align="right", baseline="alphabetic",
                                                                      fontSize=24, color=col)
                      .encode(x=alt.value(W - 14), y=alt.value(29 + 27 * i), text="t:N"))
    return alt.layer(*layers).properties(width=W, height=H)


def spacer(w, h):
    return (alt.Chart(pd.DataFrame({"a": [0]})).mark_point(opacity=0)
            .encode(x=alt.value(0), y=alt.value(0))
            .properties(width=w, height=h, view=alt.ViewBackground(fill="transparent", stroke="transparent")))


legend_bare = [("Bare rocky", "#f01d1d"), ("Bare water", "#1515f0"), ("Observed", "black")]
legend_gas = [("Gas-rich rocky", "#bc8f8f"), ("Gas-rich water", "#10b8ec")]

cells = [
    # ---- Migration-A
    scatter_panel([("gr", A_G_BEFORE_ROCKY), ("gw", A_G_BEFORE_WATER)], dash=DASH_R_BEFORE,
                  label="G-type host", yaxis=True,
                  extra=box(COLUMN_TITLES[0], 20, 367, -55, -17)
                  + box(GROUP_TITLES[0], -112, -70, 11, 359, angle=270, size=24)),
    scatter_panel([("gr", A_G_AFTER_GAS_ROCKY), ("gw", A_G_AFTER_GAS_WATER), ("br", A_G_AFTER_BARE_ROCKY),
                   ("bw", A_G_AFTER_BARE_WATER)], dash=DASH_R_AFTER,
                  extra=box(COLUMN_TITLES[1], 16, 781, -55, -17)),
    hist_panel([("gr", H1_GAS_ROCKY), ("gw", H1_GAS_WATER), ("br", H1_BARE_ROCKY), ("bw", H1_BARE_WATER)],
               observed=OBSERVED, texts=legend_bare),
    scatter_panel([("gr", A_M_BEFORE_ROCKY), ("gw", A_M_BEFORE_WATER)], label="M-type host", yaxis=True),
    scatter_panel([("gr", A_M_AFTER_GAS_ROCKY), ("gw", A_M_AFTER_GAS_WATER), ("br", A_M_AFTER_BARE_ROCKY),
                   ("bw", A_M_AFTER_BARE_WATER)]),
    hist_panel([("gr", H2_GAS_ROCKY), ("gw", H2_GAS_WATER), ("br", H2_BARE_ROCKY), ("bw", H2_BARE_WATER)]),
    spacer(W, 19), spacer(W, 19), spacer(W, 19),
    # ---- Migration-B
    scatter_panel([("gr", B_G_BEFORE_ROCKY), ("gw", B_G_BEFORE_WATER)], dash=DASH_R_BEFORE,
                  label="G-type host", yaxis=True,
                  extra=box(GROUP_TITLES[1], -112, -70, 12, 359, angle=270, size=24)),
    scatter_panel([("gr", B_G_AFTER_GAS_ROCKY), ("gw", B_G_AFTER_GAS_WATER), ("br", B_G_AFTER_BARE_ROCKY),
                   ("bw", B_G_AFTER_BARE_WATER)], dash=DASH_R_AFTER),
    hist_panel([("gr", H3_GAS_ROCKY), ("gw", H3_GAS_WATER), ("br", H3_BARE_ROCKY), ("bw", H3_BARE_WATER)],
               observed=OBSERVED, texts=legend_gas),
    scatter_panel([("gr", B_M_BEFORE_ROCKY), ("gw", B_M_BEFORE_WATER)], label="M-type host", yaxis=True),
    scatter_panel([("gr", B_M_AFTER_GAS_ROCKY), ("gw", B_M_AFTER_GAS_WATER), ("br", B_M_AFTER_BARE_ROCKY),
                   ("bw", B_M_AFTER_BARE_WATER)]),
    hist_panel([("gr", H4_GAS_ROCKY), ("gw", H4_GAS_WATER), ("br", H4_BARE_ROCKY), ("bw", H4_BARE_WATER)]),
    spacer(W, 19), spacer(W, 19), spacer(W, 19),
    # ---- In-situ
    scatter_panel([("gr", I_G_BEFORE_ROCKY)], dash=DASH_R_BEFORE, label="G-type host", yaxis=True,
                  extra=box(GROUP_TITLES[2], -112, -70, 20, 351, angle=270, size=24)),
    scatter_panel([("gr", I_G_AFTER_GAS_ROCKY), ("br", I_G_AFTER_BARE_ROCKY)], dash=DASH_R_AFTER),
    hist_panel([("gr", H5_GAS_ROCKY), ("br", H5_BARE_ROCKY)], observed=OBSERVED),
    scatter_panel([("gr", I_M_BEFORE_ROCKY)], label="M-type host", yaxis=True, xaxis=True),
    scatter_panel([("gr", I_M_AFTER_GAS_ROCKY), ("br", I_M_AFTER_BARE_ROCKY)], xaxis=True, legend=True),
    hist_panel([("gr", H6_GAS_ROCKY), ("br", H6_BARE_ROCKY)], xaxis=True),
]

chart = (alt.concat(*cells, columns=3, spacing={"row": 11, "column": 20}, bounds="flush", align="each")
         .resolve_scale(size="independent").resolve_legend(size="independent")
         .properties(padding={"left": 6, "top": 0, "right": 5, "bottom": 5})
         .configure(font=FONT)
         .configure_view(fill=BG, stroke="#222222", strokeWidth=1.2)
         .configure_axis(labelFont=FONT, titleFont=FONT, labelColor="black", titleColor="black",
                         titleFontWeight="normal", grid=False)
         .configure_legend(labelFont=FONT, titleFont=FONT, labelColor="black", titleColor="black")
         .configure_text(font=FONT))

chart.save("out.html", embed_options={"renderer": "svg", "actions": False})
